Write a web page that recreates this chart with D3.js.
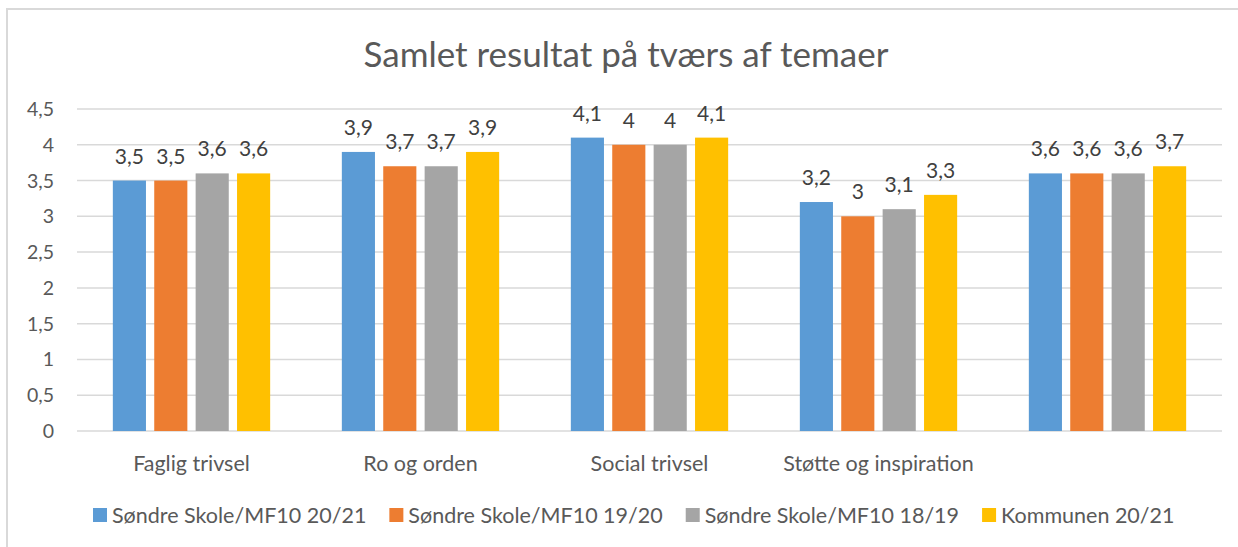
<!DOCTYPE html>
<html>
<head>
<meta charset="utf-8">
<script src="https://cdn.jsdelivr.net/npm/d3@7"></script>
<style>
  body { margin: 0; background: #fff; }
  svg text { font-family: Lato, "Open Sans", sans-serif; }
</style>
</head>
<body>
<svg id="chart" width="1238" height="547"></svg>
<script>
const title = 'Samlet resultat på tværs af temaer';
const categories = ['Faglig trivsel', 'Ro og orden', 'Social trivsel', 'Støtte og inspiration', ''];
const seriesNames = ['Søndre Skole/MF10 20/21', 'Søndre Skole/MF10 19/20', 'Søndre Skole/MF10 18/19', 'Kommunen 20/21'];
const colors = ['#5B9BD5', '#ED7D31', '#A5A5A5', '#FFC000'];
const s2021 = [3.5, 3.9, 4.1, 3.2, 3.6];
const s1920 = [3.5, 3.7, 4.0, 3.0, 3.6];
const s1819 = [3.6, 3.7, 4.0, 3.1, 3.6];
const kommune = [3.6, 3.9, 4.1, 3.3, 3.7];
const yTicks = [0, 0.5, 1, 1.5, 2, 2.5, 3, 3.5, 4, 4.5];

const values = [s2021, s1920, s1819, kommune];
const fmt = v => String(v).replace('.', ',');

const svg = d3.select('#chart');
const W = 1238, H = 547;
const plot = { left: 77, right: 1222, top: 109, bottom: 431 };

// chart border
svg.append('rect')
  .attr('x', 7).attr('y', 9)
  .attr('width', W + 10).attr('height', H + 10)
  .attr('fill', 'none')
  .attr('stroke', '#d9d9d9')
  .attr('stroke-width', 2);

svg.append('text')
  .attr('x', 626).attr('y', 67)
  .attr('text-anchor', 'middle')
  .attr('font-size', 35)
  .attr('fill', '#595959')
  .text(title);

let y = d3.scaleLinear().domain([0, 4.5]).range([plot.bottom, plot.top]);
let x0 = d3.scaleBand().domain(d3.range(categories.length))
  .range([plot.left, plot.right])
  .paddingInner(0.313).paddingOuter(0.1565);
let x1 = d3.scaleBand().domain(d3.range(seriesNames.length))
  .range([0, x0.bandwidth()])
  .paddingInner(0.2).paddingOuter(0);

// gridlines
svg.append('g')
  .selectAll('line')
  .data(yTicks)
  .join('line')
  .attr('x1', plot.left).attr('x2', plot.right)
  .attr('y1', d => y(d)).attr('y2', d => y(d))
  .attr('stroke', '#d9d9d9')
  .attr('stroke-width', 1.5);

// y labels
svg.append('g')
  .selectAll('text')
  .data(yTicks)
  .join('text')
  .attr('x', 54)
  .attr('y', d => y(d) + 7)
  .attr('text-anchor', 'end')
  .attr('font-size', 19.5)
  .attr('fill', '#595959')
  .text(fmt);

// bars
let groups = svg.append('g')
  .selectAll('g')
  .data(categories.map((c, i) => i))
  .join('g')
  .attr('transform', i => `translate(${x0(i)},0)`);

groups.selectAll('rect')
  .data(i => values.map((s, k) => ({ k: k, v: s[i] })))
  .join('rect')
  .attr('x', d => x1(d.k))
  .attr('width', x1.bandwidth())
  .attr('y', d => y(d.v))
  .attr('height', d => y(0) - y(d.v))
  .attr('fill', d => colors[d.k]);

groups.selectAll('text')
  .data(i => values.map((s, k) => ({ k: k, v: s[i] })))
  .join('text')
  .attr('x', d => x1(d.k) + x1.bandwidth() / 2)
  .attr('y', d => y(d.v) - 17)
  .attr('text-anchor', 'middle')
  .attr('font-size', 21)
  .attr('fill', '#404040')
  .text(d => fmt(d.v));

// x labels
svg.append('g')
  .selectAll('text')
  .data(categories)
  .join('text')
  .attr('x', (d, i) => x0(i) + x0.bandwidth() / 2)
  .attr('y', 471)
  .attr('text-anchor', 'middle')
  .attr('font-size', 21.5)
  .attr('fill', '#595959')
  .text(d => d);

// legend
let legend = svg.append('g');
let items = legend.selectAll('g')
  .data(seriesNames)
  .join('g');
items.append('rect')
  .attr('width', 14).attr('height', 14)
  .attr('y', 508)
  .attr('fill', (d, i) => colors[i]);
items.append('text')
  .attr('x', 19)
  .attr('y', 523)
  .attr('font-size', 21.5)
  .attr('fill', '#595959')
  .text(d => d);

let pos = 0;
let offsets = [];
items.each(function() {
  offsets.push(pos);
  pos += 19 + this.querySelector('text').getComputedTextLength() + 23;
});
let start = 93;
items.attr('transform', (d, i) => `translate(${start + offsets[i]},0)`);
</script>
</body>
</html>
